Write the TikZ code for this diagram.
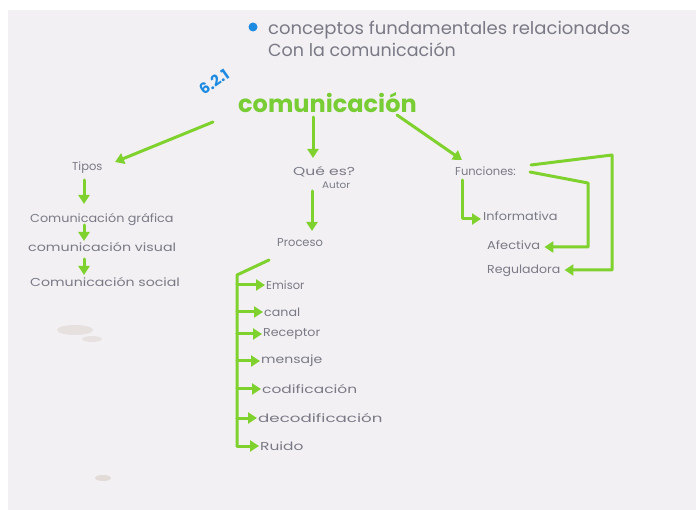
\documentclass[tikz,border=0pt]{standalone}
\usepackage{fontspec}
\usepackage{graphicx}
\setmainfont{Poppins}
\usetikzlibrary{arrows.meta}
\definecolor{paper}{HTML}{F2F0F3}
\definecolor{gr}{HTML}{7FD22E}
\definecolor{grt}{HTML}{78CC34}
\definecolor{ink}{HTML}{7A7A86}
\definecolor{bl}{HTML}{1E8BE3}
\newcommand\hw[2]{\scalebox{#1}[1]{#2}}
\tikzset{
  arr/.style={draw=gr, line width=3pt, line cap=round, line join=round, -{Triangle[length=9pt,width=11pt]}},
  ln/.style={draw=gr, line width=3pt, line cap=round, line join=round},
  txt/.style={text=ink, inner sep=0pt, anchor=west, font=\fontsize{11.5}{13}\selectfont},
  small/.style={txt, font=\fontsize{9.5}{11}\selectfont},
  title/.style={txt, font=\fontsize{17.5}{20}\selectfont},
}
\begin{document}
\begin{tikzpicture}[x=1pt,y=-1pt]
\useasboundingbox (0,0) rectangle (696,510);
\fill[white] (0,0) rectangle (696,510);
\fill[paper] (8,10) rectangle (696,510);
% smudges
\fill[brown!50!gray, opacity=0.14] (75,330) ellipse (18pt and 5pt);
\fill[brown!50!gray, opacity=0.12] (92,339) ellipse (10pt and 3pt);
\fill[brown!50!gray, opacity=0.18] (103,478) ellipse (8pt and 3pt);

% header
\fill[bl] (253,27) circle (4.5pt);
\node[title] (t1) at (268,30) {\hw{1.03}{conceptos fundamentales relacionados}};
\node[title] (t2) at (268,50) {Con la comunicación};

\node[text=bl, font=\fontsize{15}{17}\selectfont\bfseries, rotate=35, inner sep=0pt] (num) at (214,82) {6.2.1};
\node[text=grt, font=\fontsize{24}{28}\selectfont\bfseries, inner sep=0pt, anchor=west] (com) at (238,103) {comunicación};

% level 1
\node[txt] (tipos) at (72,168) {Tipos};
\node[txt] (que) at (293,172) {\hw{1.35}{Qué es?}};
\node[small] (autor) at (322,185) {\hw{1.1}{Autor}};
\node[txt] (fun) at (455,171) {Funciones:};

\coordinate (a1s) at (213,122); \coordinate (a1e) at (115,162);
\coordinate (a2s) at (313,117); \coordinate (a2e) at (313,158);
\coordinate (a3s) at (397,115); \coordinate (a3e) at (462,160);
\draw[arr] (a1s) -- (a1e);
\draw[arr] (a2s) -- (a2e);
\draw[arr] (a3s) -- (a3e);

% Tipos column
\node[txt] (g1) at (30,220) {\hw{1.11}{Comunicación gráfica}};
\node[txt] (g2) at (28,247) {\hw{1.24}{comunicación visual}};
\node[txt] (g3) at (30,282) {\hw{1.23}{Comunicación social}};
\coordinate (b1s) at (84,180); \coordinate (b1e) at (84,204);
\coordinate (b2s) at (84,225); \coordinate (b2e) at (84,241);
\coordinate (b3s) at (84,259); \coordinate (b3e) at (84,275);
\draw[arr] (b1s) -- (b1e);
\draw[arr] (b2s) -- (b2e);
\draw[arr] (b3s) -- (b3e);

% Qué es column
\node[txt] (proc) at (277,243) {Proceso};
\coordinate (c1s) at (312,191); \coordinate (c1e) at (312,231);
\draw[arr] (c1s) -- (c1e);

\node[txt] (p1) at (266,285) {Emisor};
\node[txt] (p2) at (264,312) {\hw{1.1}{canal}};
\node[txt] (p3) at (263,334) {\hw{1.1}{Receptor}};
\node[txt] (p4) at (261,361) {\hw{1.22}{mensaje}};
\node[txt] (p5) at (262,389) {\hw{1.34}{codificación}};
\node[txt] (p6) at (258,418) {\hw{1.45}{decodificación}};
\node[txt] (p7) at (260,446) {\hw{1.34}{Ruido}};

\coordinate (d0) at (269,260);
\coordinate (d1) at (237,275);
\coordinate (d7) at (237,446);
\draw[ln] (d0) -- (d1) -- (d7);
\foreach \y/\n in {285/p1,312/p2,334/p3,361/p4,389/p5,418/p6}{
  \draw[arr] (237,\y) -- ([xshift=-1pt]\n.west);
}
\draw[arr] (d7) -- ([xshift=-1pt]p7.west);

% Funciones column
\node[txt] (f1) at (483,216) {\hw{1.12}{Informativa}};
\node[txt] (f2) at (487,245) {\hw{1.13}{Afectiva}};
\node[txt] (f3) at (487,271) {\hw{1.09}{Reguladora}};

\coordinate (e0) at (462,180); \coordinate (e1) at (462,219);
\draw[arr] (e0) -- (e1) -- ([xshift=-2pt]f1.west |- e1);

\coordinate (h0) at (530,172); \coordinate (h1) at (588,183); \coordinate (h2) at (588,247);
\draw[arr] (h0) -- (h1) -- (h2) -- ([xshift=4pt]f2.east |- h2);

\coordinate (k0) at (531,165); \coordinate (k1) at (612,155); \coordinate (k2) at (612,270);
\draw[arr] (k0) -- (k1) -- (k2) -- ([xshift=4pt]f3.east |- k2);
\end{tikzpicture}
\end{document}
